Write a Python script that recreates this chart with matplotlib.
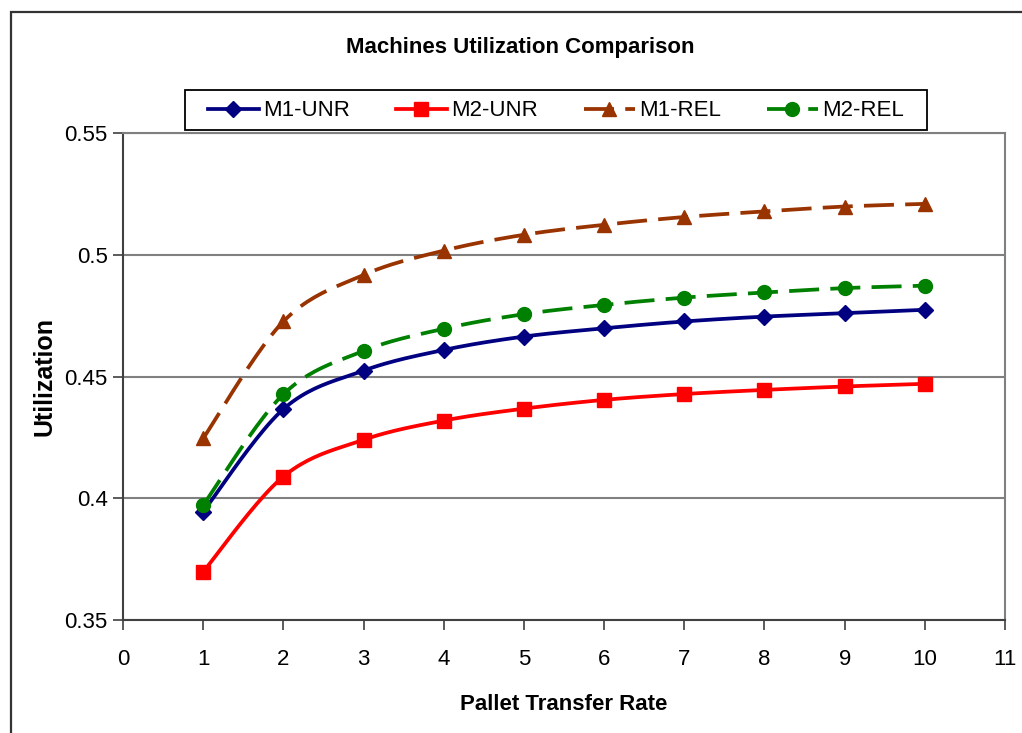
import numpy as np
import matplotlib
matplotlib.use("Agg")
import matplotlib.pyplot as plt
from matplotlib.patches import Rectangle
from matplotlib.lines import Line2D
from matplotlib.ticker import FuncFormatter

plt.rcParams['font.family'] = ['Liberation Sans', 'DejaVu Sans']

# Utilization values per pallet transfer rate
rate = [1, 2, 3, 4, 5, 6, 7, 8, 9, 10]
m1_unr = [0.3945, 0.4366, 0.4524, 0.4609, 0.4664, 0.4698, 0.4726, 0.4746, 0.4760, 0.4774]
m2_unr = [0.3698, 0.4089, 0.4240, 0.4319, 0.4368, 0.4404, 0.4428, 0.4445, 0.4459, 0.4470]
m1_rel = [0.4246, 0.4726, 0.4917, 0.5017, 0.5082, 0.5123, 0.5155, 0.5178, 0.5198, 0.5209]
m2_rel = [0.3972, 0.4427, 0.4605, 0.4696, 0.4756, 0.4794, 0.4824, 0.4845, 0.4863, 0.4873]

series = [
    ("M1-UNR", m1_unr, "#000080", "D", "-"),
    ("M2-UNR", m2_unr, "#ff0000", "s", "-"),
    ("M1-REL", m1_rel, "#993300", "^", (0, (8, 3))),
    ("M2-REL", m2_rel, "#008000", "o", (0, (8, 3))),
]


def smooth(x, y, n=24):
    # cubic bezier through the points (catmull-rom style tangents)
    x = np.asarray(x, float)
    y = np.asarray(y, float)
    pts = np.column_stack([x, y])
    out = [pts[0]]
    for i in range(len(pts) - 1):
        p0 = pts[i - 1] if i > 0 else pts[i]
        p1 = pts[i]
        p2 = pts[i + 1]
        p3 = pts[i + 2] if i + 2 < len(pts) else pts[i + 1]
        c1 = p1 + (p2 - p0) / 6.0
        c2 = p2 - (p3 - p1) / 6.0
        t = np.linspace(0, 1, n)[1:, None]
        seg = ((1 - t) ** 3) * p1 + 3 * ((1 - t) ** 2) * t * c1 + 3 * (1 - t) * t ** 2 * c2 + t ** 3 * p2
        out.extend(seg)
    out = np.array(out)
    return out[:, 0], out[:, 1]


fig = plt.figure(figsize=(10.22, 7.33), dpi=100)
ax = fig.add_axes([123 / 1022, 1 - 620 / 733, (1005 - 123) / 1022, (620 - 133) / 733])

handles = []
for name, vals, col, mk, ls in series:
    ms = 8.5 if mk == 'D' else 10
    sx, sy = smooth(rate, vals)
    ax.plot(sx, sy, color=col, lw=2.7, linestyle=ls, solid_capstyle='butt', dash_capstyle='butt', zorder=3)
    ax.plot(rate, vals, linestyle='none', marker=mk, color=col, markersize=ms,
            markeredgecolor=col, zorder=4)
    handles.append(Line2D([0], [0], color=col, lw=2.7, linestyle=ls, marker=mk, markersize=ms))

ax.set_xlim(0, 11)
ax.set_ylim(0.35, 0.55)
ax.set_xticks(range(0, 12))
ax.set_yticks([0.35, 0.4, 0.45, 0.5, 0.55])
ax.yaxis.set_major_formatter(FuncFormatter(lambda v, p: f"{v:g}"))
ax.tick_params(axis='both', labelsize=16, direction='out', length=7, width=1.2, color='#404040')
ax.tick_params(axis='x', pad=14)
ax.tick_params(axis='y', pad=4)

ax.yaxis.grid(True, color='#808080', lw=1.5)
ax.set_axisbelow(True)
for side in ('left', 'bottom'):
    ax.spines[side].set_color('#404040')
    ax.spines[side].set_linewidth(1.5)
for side in ('top', 'right'):
    ax.spines[side].set_color('#808080')
    ax.spines[side].set_linewidth(1.5)

ax.set_xlabel("Pallet Transfer Rate", fontsize=16, fontweight='bold', labelpad=17)
ax.set_ylabel("Utilization", fontsize=18, fontweight='bold', labelpad=6)

fig.text(520 / 1022, 1 - 48 / 733, "Machines Utilization Comparison", fontsize=16,
         fontweight='bold', ha='center', va='center')

leg = fig.legend(handles=handles, labels=[s[0] for s in series], loc='center',
                 bbox_to_anchor=(556 / 1022, 1 - 111 / 733), ncol=4, fontsize=16,
                 frameon=False, handlelength=2.3, handletextpad=0.2, columnspacing=2.05,
                 borderpad=0.2)

# legend box
fig.add_artist(Rectangle((185 / 1022, 1 - 130 / 733), 742 / 1022, 40 / 733,
                         transform=fig.transFigure, facecolor='white', edgecolor='black',
                         lw=1.3, zorder=0.5))
leg.set_zorder(5)

# chart area border
fig.add_artist(Rectangle((11 / 1022, -0.5), 2, 1.5 - 12 / 733, transform=fig.transFigure,
                         fill=False, edgecolor='#333333', lw=1.6))

fig.savefig("out.png", dpi=100)
